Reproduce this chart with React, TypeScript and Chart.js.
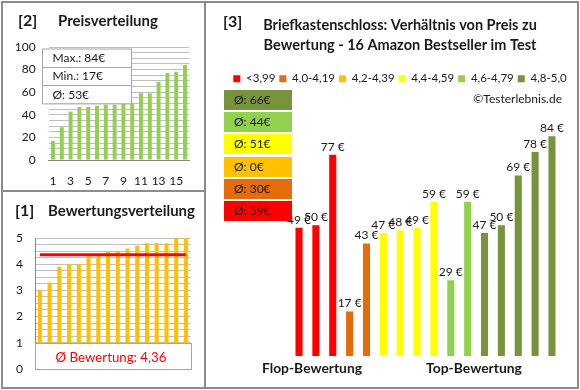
import React, { useEffect, useRef } from 'react';
import { Chart, registerables } from 'chart.js';

Chart.register(...registerables);

const FONT = 'Lato, "Open Sans", sans-serif';
const TEXT = '#1a1a1a';
const GRID = '#BFBFBF';
const AXIS = '#868686';
const FRAME = '#8c8c8c';

// ---- data ----
const indexLabels = ['1', '2', '3', '4', '5', '6', '7', '8', '9', '10', '11', '12', '13', '14', '15', '16'];
const priceSorted = [17, 29, 43, 47, 47, 48, 49, 49, 50, 50, 59, 59, 69, 77, 78, 84];
const ratingSorted = [3.0, 3.3, 3.9, 4.0, 4.0, 4.3, 4.3, 4.5, 4.5, 4.6, 4.7, 4.8, 4.8, 4.8, 5.0, 5.0];
const ratingAverage = 4.36;
const ratingAverageText = '4,36';
const productPrices = [49, 50, 77, 17, 43, 47, 48, 49, 59, 29, 59, 47, 50, 69, 78, 84];
const productGroup = [0, 0, 0, 1, 1, 3, 3, 3, 3, 4, 4, 5, 5, 5, 5, 5];
const groupLabels = ['<3,99', '4,0-4,19', '4,2-4,39', '4,4-4,59', '4,6-4,79', '4,8-5,0'];
const groupColors = ['#FF0000', '#E46C0A', '#FFC000', '#FFFF00', '#92D050', '#77933C'];
const chartTitle = ['Briefkastenschloss: Verhältnis von Preis zu', 'Bewertung - 16 Amazon Bestseller im Test'];

const font = (size: number, weight: string = 'normal') => `${weight} ${size}px ${FONT}`;

// set a font whose rendered width is close to the target width (capped at maxSize)
function fitFont(ctx: CanvasRenderingContext2D, text: string, weight: string, target: number, maxSize: number) {
  ctx.font = font(maxSize, weight);
  const w = ctx.measureText(text).width;
  const size = w > 0 ? Math.min(maxSize, (maxSize * target) / w) : maxSize;
  ctx.font = font(size, weight);
}

// ---- panel 2: Preisverteilung ----
const pricePanelPlugin = {
  id: 'pricePanel',
  afterDatasetsDraw(chart: any) {
    const ctx = chart.ctx;
    const max = Math.max(...priceSorted);
    const min = Math.min(...priceSorted);
    const avg = Math.round(priceSorted.reduce((a, b) => a + b, 0) / priceSorted.length);
    ctx.save();
    const x0 = 40, y0 = 46.5, w = 89, rowH = 18.3;
    ctx.fillStyle = '#ffffff';
    ctx.fillRect(x0, y0, w, rowH * 3);
    ctx.strokeStyle = '#A6A6A6';
    ctx.lineWidth = 1;
    ctx.strokeRect(x0 + 0.5, y0 + 0.5, w, rowH * 3);
    for (let i = 1; i < 3; i++) {
      const y = Math.round(y0 + rowH * i) + 0.5;
      ctx.beginPath();
      ctx.moveTo(x0, y);
      ctx.lineTo(x0 + w, y);
      ctx.stroke();
    }
    ctx.fillStyle = TEXT;
    ctx.font = font(12);
    ctx.textAlign = 'left';
    ctx.textBaseline = 'middle';
    const rows = [`Max.: ${max}€`, `Min.: ${min}€`, `Ø: ${avg}€`];
    rows.forEach((t, i) => ctx.fillText(t, 50.5, y0 + rowH * i + rowH / 2 + 0.5));
    ctx.restore();
  },
  afterDraw(chart: any) {
    const ctx = chart.ctx;
    ctx.save();
    ctx.fillStyle = TEXT;
    ctx.textBaseline = 'middle';
    ctx.textAlign = 'left';
    ctx.font = font(16, 'bold');
    ctx.fillText('[2]', 16, 19);
    fitFont(ctx, 'Preisverteilung', 'bold', 100, 16);
    ctx.fillText('Preisverteilung', 56, 19);
    ctx.restore();
  },
};

const priceConfig = (): any => ({
  type: 'bar',
  data: {
    labels: indexLabels,
    datasets: [
      {
        data: priceSorted,
        backgroundColor: '#92D050',
        borderWidth: 0,
        barPercentage: 0.45,
        categoryPercentage: 1,
      },
    ],
  },
  options: {
    animation: false,
    responsive: false,
    maintainAspectRatio: false,
    layout: { padding: { top: 45, right: 15.6, bottom: 0, left: 0 } },
    plugins: { legend: { display: false }, tooltip: { enabled: false }, title: { display: false } },
    scales: {
      x: {
        grid: { display: false, drawTicks: false },
        border: { display: true, color: AXIS },
        ticks: {
          autoSkip: false,
          maxRotation: 0,
          padding: 14,
          color: TEXT,
          font: { family: FONT, size: 12 },
          callback: (_v: any, i: number) => (i % 2 === 0 ? indexLabels[i] : ''),
        },
        afterFit: (s: any) => {
          s.height = 31;
        },
      },
      y: {
        min: 0,
        max: 100,
        grid: { color: GRID, drawTicks: false },
        border: { display: false },
        ticks: {
          stepSize: 5,
          autoSkip: false,
          padding: 13,
          color: TEXT,
          font: { family: FONT, size: 12 },
          callback: (v: any) => (Number(v) % 20 === 0 ? String(v) : ''),
        },
        afterFit: (s: any) => {
          s.width = 46.6;
        },
      },
    },
  },
  plugins: [pricePanelPlugin],
});

// ---- panel 1: Bewertungsverteilung ----
const ratingPanelPlugin = {
  id: 'ratingPanel',
  afterDatasetsDraw(chart: any) {
    const ctx = chart.ctx;
    const area = chart.chartArea;
    const y1 = chart.scales.y.getPixelForValue(1);
    ctx.save();
    const x0 = Math.round(area.left), x1 = Math.round(area.right);
    const top = Math.round(y1) + 0.5;
    const bottom = Math.round(area.bottom) + 0.5;
    ctx.fillStyle = '#ffffff';
    ctx.fillRect(x0, top, x1 - x0, bottom - top);
    ctx.strokeStyle = '#A6A6A6';
    ctx.lineWidth = 1;
    ctx.strokeRect(x0 + 0.5, top, x1 - x0, bottom - top);
    ctx.fillStyle = '#FF0000';
    const label = `Ø Bewertung: ${ratingAverageText}`;
    fitFont(ctx, label, 'normal', 111, 16);
    ctx.textAlign = 'center';
    ctx.textBaseline = 'middle';
    ctx.fillText(label, 111 - 2, (top + bottom) / 2 + 1);
    ctx.restore();
  },
  afterDraw(chart: any) {
    const ctx = chart.ctx;
    ctx.save();
    ctx.fillStyle = TEXT;
    ctx.textBaseline = 'middle';
    ctx.textAlign = 'left';
    ctx.font = font(16, 'bold');
    ctx.fillText('[1]', 13, 19);
    fitFont(ctx, 'Bewertungsverteilung', 'bold', 147, 16);
    ctx.fillText('Bewertungsverteilung', 46, 19);
    ctx.restore();
  },
};

const ratingConfig = (): any => ({
  type: 'bar',
  data: {
    labels: indexLabels,
    datasets: [
      {
        type: 'line',
        data: indexLabels.map(() => ratingAverage),
        borderColor: '#FF0000',
        borderWidth: 3,
        pointRadius: 0,
        order: 0,
      },
      {
        type: 'bar',
        data: ratingSorted,
        backgroundColor: '#FFC000',
        borderWidth: 0,
        barPercentage: 0.42,
        categoryPercentage: 1,
        order: 1,
      },
    ],
  },
  options: {
    animation: false,
    responsive: false,
    maintainAspectRatio: false,
    layout: { padding: { top: 46, right: 14.2, bottom: 15, left: 0 } },
    plugins: { legend: { display: false }, tooltip: { enabled: false }, title: { display: false } },
    scales: {
      x: { display: false },
      y: {
        min: 0,
        max: 5,
        grid: { color: GRID, drawTicks: false },
        border: { display: true, color: AXIS },
        ticks: {
          stepSize: 0.25,
          autoSkip: false,
          padding: 12,
          color: TEXT,
          font: { family: FONT, size: 12 },
          callback: (v: any) => (Math.abs(Number(v) - Math.round(Number(v))) < 1e-6 ? String(v) : ''),
        },
        afterFit: (s: any) => {
          s.width = 33;
        },
      },
    },
  },
  plugins: [ratingPanelPlugin],
});

// ---- panel 3: Preis / Bewertung ----
const groupAverages = groupLabels.map((_l, g) => {
  const vals = productPrices.filter((_v, i) => productGroup[i] === g);
  return vals.length ? Math.round(vals.reduce((a, b) => a + b, 0) / vals.length) : 0;
});

const mainPanelPlugin = {
  id: 'mainPanel',
  afterDatasetsDraw(chart: any) {
    const ctx = chart.ctx;
    ctx.save();
    ctx.font = font(12);
    ctx.fillStyle = TEXT;
    ctx.textAlign = 'center';
    ctx.textBaseline = 'bottom';
    chart.data.datasets.forEach((ds: any, di: number) => {
      const meta = chart.getDatasetMeta(di);
      meta.data.forEach((el: any, i: number) => {
        const v = ds.data[i];
        if (v == null) return;
        ctx.fillText(`${v} €`, el.x, el.y - 2);
      });
    });
    ctx.restore();
  },
  afterDraw(chart: any) {
    const ctx = chart.ctx;
    ctx.save();
    // Ø boxes (top: highest rating group)
    const order = [5, 4, 3, 2, 1, 0];
    order.forEach((g, k) => {
      const top = 88 + k * 22.2;
      ctx.fillStyle = groupColors[g];
      ctx.fillRect(2, Math.round(top), 68, 20);
      ctx.fillStyle = TEXT;
      ctx.font = font(12);
      ctx.textAlign = 'left';
      ctx.textBaseline = 'middle';
      ctx.fillText(`Ø: ${groupAverages[g]}€`, 12, Math.round(top) + 10.5);
    });
    ctx.fillStyle = TEXT;
    ctx.textBaseline = 'middle';
    ctx.font = font(16, 'bold');
    ctx.textAlign = 'left';
    ctx.fillText('[3]', 1, 20);
    ctx.font = font(12);
    ctx.textAlign = 'right';
    ctx.fillText('©Testerlebnis.de', 340, 97);
    ctx.textAlign = 'center';
    fitFont(ctx, 'Flop-Bewertung', 'bold', 100, 16);
    ctx.fillText('Flop-Bewertung', 90, 367);
    fitFont(ctx, 'Top-Bewertung', 'bold', 96, 16);
    ctx.fillText('Top-Bewertung', 252, 367);
    ctx.restore();
  },
};

const mainConfig = (): any => ({
  type: 'bar',
  data: {
    labels: indexLabels,
    datasets: groupLabels.map((label, g) => ({
      label,
      data: productPrices.map((v, i) => (productGroup[i] === g ? v : null)),
      backgroundColor: groupColors[g],
      borderWidth: 0,
      grouped: false,
      barPercentage: 0.42,
      categoryPercentage: 1,
    })),
  },
  options: {
    animation: false,
    responsive: false,
    maintainAspectRatio: false,
    layout: { padding: { top: 0, right: 0, bottom: 32, left: 0 } },
    plugins: {
      tooltip: { enabled: false },
      title: {
        display: true,
        text: chartTitle,
        color: TEXT,
        font: { family: FONT, size: 14.5, weight: 'bold', lineHeight: 20 / 14.5 },
        padding: { top: 13.7, bottom: 13.3 },
      },
      legend: {
        display: true,
        position: 'top',
        labels: {
          boxWidth: 7,
          boxHeight: 7,
          padding: 4,
          color: TEXT,
          font: { family: FONT, size: 11.5 },
        },
      },
    },
    scales: {
      x: { display: false },
      y: {
        min: 0,
        max: 100,
        display: true,
        grid: { display: false },
        border: { display: false },
        ticks: { display: false },
        afterFit: (s: any) => {
          s.width = 68.6;
        },
      },
      y2: {
        type: 'linear',
        position: 'right',
        display: true,
        grid: { display: false },
        border: { display: false },
        ticks: { display: false },
        afterFit: (s: any) => {
          s.width = 17.6;
        },
      },
    },
  },
  plugins: [mainPanelPlugin],
});

function ChartCanvas(props: { config: () => any; left: number; top: number; width: number; height: number }) {
  const ref = useRef<HTMLCanvasElement>(null);
  useEffect(() => {
    const chart = new Chart(ref.current as HTMLCanvasElement, props.config());
    return () => chart.destroy();
  }, []);
  const { left, top, width, height } = props;
  return (
    <canvas
      ref={ref}
      width={width}
      height={height}
      style={{ position: 'absolute', left, top, width, height, display: 'block' }}
    />
  );
}

export default function App() {
  useEffect(() => {
    document.body.style.margin = '0';
  }, []);
  const line = (style: React.CSSProperties) => (
    <div style={{ position: 'absolute', background: FRAME, pointerEvents: 'none', ...style }} />
  );
  return (
    <div style={{ position: 'relative', width: 580, height: 390, background: '#ffffff', overflow: 'hidden' }}>
      <ChartCanvas config={priceConfig} left={2} top={2} width={203} height={189} />
      <ChartCanvas config={ratingConfig} left={2} top={192} width={203} height={196} />
      <ChartCanvas config={mainConfig} left={222} top={2} width={356} height={386} />
      {line({ left: 1, top: 1, width: 578, height: 2 })}
      {line({ left: 1, top: 387, width: 578, height: 2 })}
      {line({ left: 1, top: 1, width: 2, height: 388 })}
      {line({ left: 577, top: 1, width: 2, height: 388 })}
      {line({ left: 204, top: 1, width: 2, height: 388 })}
      {line({ left: 1, top: 190, width: 205, height: 2 })}
    </div>
  );
}
